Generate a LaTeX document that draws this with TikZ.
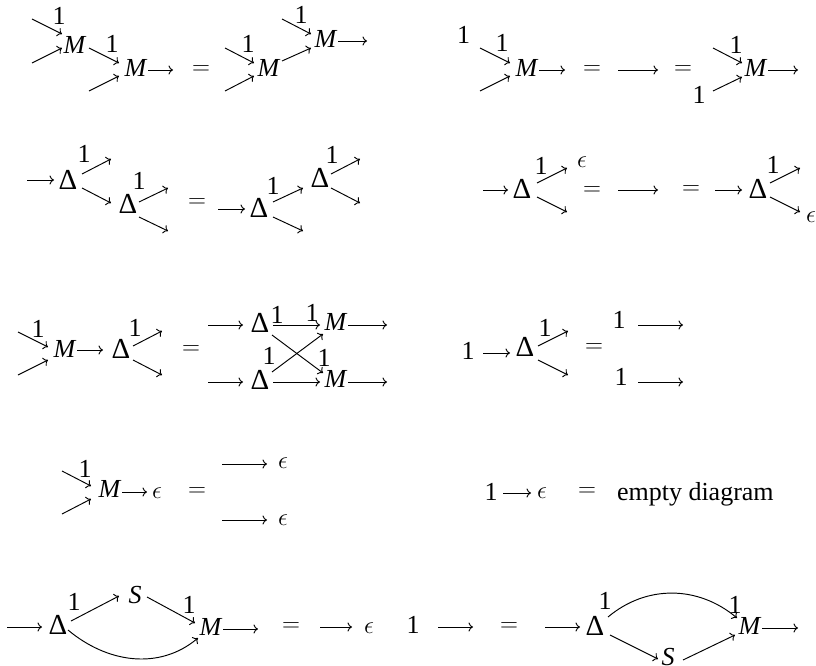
\documentclass[tikz,border=0pt]{standalone}
\usepackage{fontspec}
\setmainfont{Liberation Serif}
\usetikzlibrary{arrows.meta}
\newcommand{\fsz}{\fontsize{26}{31}\selectfont}
\begin{document}
\begin{tikzpicture}[x=1pt,y=-1pt,
  every node/.style={inner sep=0pt,outer sep=0pt,font=\fsz},
  dl/.style={font=\fontsize{29}{34}\selectfont},
  eqs/.style={font=\fontsize{28}{33}\selectfont},
  wire/.style={-{Computer Modern Rightarrow[length=4.5pt,width=9pt]}, line width=0.95pt}]
\useasboundingbox (0,0) rectangle (816,666);
% ---------- row 1 left
\node (r1m1) at (75,45) {\textit{M}};
\node (r1l1) at (59,16) {1};
\node (r1m2) at (136,68) {\textit{M}};
\node (r1l2) at (112,44) {1};
\node[eqs] (r1eq) at (201,70) {$=$};
\node (r1m3) at (269,68) {\textit{M}};
\node (r1l3) at (248,44) {1};
\node (r1m4) at (326,39) {\textit{M}};
\node (r1l4) at (301,15) {1};
\coordinate (r1a) at (32,19);
\coordinate (r1b) at (32,63);
\coordinate (r1c) at (89,91);
\coordinate (r1o1) at (173,70);
\coordinate (r1d) at (225,48);
\coordinate (r1e) at (225,91);
\coordinate (r1f) at (282,19);
\coordinate (r1o2) at (367,41);
\draw[wire] (r1a) -- ([shift={(-13,-11)}]r1m1.center);
\draw[wire] (r1b) -- ([shift={(-13,3)}]r1m1.center);
\draw[wire] ([shift={(14,3)}]r1m1.center) -- ([shift={(-17,-5)}]r1m2.center);
\draw[wire] (r1c) -- ([shift={(-17,8)}]r1m2.center);
\draw[wire] ([shift={(12,2)}]r1m2.center) -- (r1o1);
\draw[wire] (r1d) -- ([shift={(-15,-5)}]r1m3.center);
\draw[wire] (r1e) -- ([shift={(-15,8)}]r1m3.center);
\draw[wire] ([shift={(13,-7)}]r1m3.center) -- ([shift={(-15,9)}]r1m4.center);
\draw[wire] (r1f) -- ([shift={(-15,-5)}]r1m4.center);
\draw[wire] ([shift={(12,2)}]r1m4.center) -- (r1o2);
% ---------- row 1 right
\node (r1one) at (463.5,35) {1};
\node (r1m5) at (527,68) {\textit{M}};
\node (r1l5) at (502,43) {1};
\node[eqs] (r1eq2) at (592,70) {$=$};
\node[eqs] (r1eq3) at (683,70) {$=$};
\node (r1m6) at (756,68) {\textit{M}};
\node (r1l6) at (736,45) {1};
\node (r1l7) at (699,95) {1};
\coordinate (r1g) at (480,48);
\coordinate (r1h) at (480,91);
\coordinate (r1o3) at (565,70);
\coordinate (r1w1) at (618,70);
\coordinate (r1w2) at (658,70);
\coordinate (r1k) at (713,48);
\coordinate (r1l) at (713,91);
\coordinate (r1o4) at (798,70);
\draw[wire] (r1g) -- ([shift={(-17,-5)}]r1m5.center);
\draw[wire] (r1h) -- ([shift={(-17,8)}]r1m5.center);
\draw[wire] ([shift={(12,2)}]r1m5.center) -- (r1o3);
\draw[wire] (r1w1) -- (r1w2);
\draw[wire] (r1k) -- ([shift={(-14,-5)}]r1m6.center);
\draw[wire] (r1l) -- ([shift={(-14,9)}]r1m6.center);
\draw[wire] ([shift={(12,2)}]r1m6.center) -- (r1o4);
% ---------- row 2 left
\node[dl] (r2d1) at (68,180) {Δ};
\node (r2l1) at (84,154) {1};
\node[dl] (r2d2) at (128,204) {Δ};
\node (r2l2) at (139,181) {1};
\node[eqs] (r2eq) at (197,203) {$=$};
\node[dl] (r2d3) at (259,208) {Δ};
\node (r2l3) at (273,186) {1};
\node[dl] (r2d4) at (320,178) {Δ};
\node (r2l4) at (332,155) {1};
\coordinate (r2i1) at (27,180);
\coordinate (r2u1) at (111,159);
\coordinate (r2u2) at (168,188);
\coordinate (r2v2) at (168,231);
\coordinate (r2i3) at (218,209);
\coordinate (r2v3) at (303,231);
\coordinate (r2u4) at (360,159);
\coordinate (r2v4) at (360,203);
\draw[wire] (r2i1) -- ([shift={(-14,0)}]r2d1.center);
\draw[wire] ([shift={(14,-6)}]r2d1.center) -- (r2u1);
\draw[wire] ([shift={(14,8)}]r2d1.center) -- ([shift={(-17,-1)}]r2d2.center);
\draw[wire] ([shift={(11,-2)}]r2d2.center) -- (r2u2);
\draw[wire] ([shift={(11,13)}]r2d2.center) -- (r2v2);
\draw[wire] (r2i3) -- ([shift={(-14,1)}]r2d3.center);
\draw[wire] ([shift={(14,-6)}]r2d3.center) -- ([shift={(-17,10)}]r2d4.center);
\draw[wire] ([shift={(14,9)}]r2d3.center) -- (r2v3);
\draw[wire] ([shift={(11,-4)}]r2d4.center) -- (r2u4);
\draw[wire] ([shift={(11,10)}]r2d4.center) -- (r2v4);
% ---------- row 2 right
\node[dl] (r2d5) at (522,189) {Δ};
\node (r2l5) at (541,166) {1};
\node (r2e1) at (582,162) {$\epsilon$};
\node[eqs] (r2eq2) at (592,191) {$=$};
\node[eqs] (r2eq3) at (691,190) {$=$};
\node[dl] (r2d6) at (758,189) {Δ};
\node (r2l6) at (773,165) {1};
\node (r2e2) at (811,217) {$\epsilon$};
\coordinate (r2i5) at (483,190);
\coordinate (r2v5) at (567,212);
\coordinate (r2w1) at (618,190);
\coordinate (r2w2) at (658,190);
\coordinate (r2i6) at (715,190);
\coordinate (r2u6) at (800,168);
\draw[wire] (r2i5) -- ([shift={(-14,1)}]r2d5.center);
\draw[wire] ([shift={(15,-6)}]r2d5.center) -- ([shift={(-15,6)}]r2e1.center);
\draw[wire] ([shift={(15,8)}]r2d5.center) -- (r2v5);
\draw[wire] (r2w1) -- (r2w2);
\draw[wire] (r2i6) -- ([shift={(-16,1)}]r2d6.center);
\draw[wire] ([shift={(12,-6)}]r2d6.center) -- (r2u6);
\draw[wire] ([shift={(12,8)}]r2d6.center) -- ([shift={(-11,-5)}]r2e2.center);
% ---------- row 3 left
\node (r3m7) at (65,349) {\textit{M}};
\node (r3l7) at (38,329) {1};
\node[dl] (r3d7) at (121,349) {Δ};
\node (r3l8) at (135,328) {1};
\node[eqs] (r3eq) at (191,350) {$=$};
\node[dl] (r3d8) at (260,323) {Δ};
\node (r3l9) at (277,315) {1};
\node (r3m8) at (336,322) {\textit{M}};
\node (r3l10) at (312,313) {1};
\node[dl] (r3d9) at (260,380) {Δ};
\node (r3l11) at (269,356) {1};
\node (r3m9) at (336,379) {\textit{M}};
\node (r3l12) at (324,358) {1};
\coordinate (r3a) at (18,332);
\coordinate (r3b) at (18,375);
\coordinate (r3u7) at (162,331);
\coordinate (r3v7) at (162,375);
\coordinate (r3i8) at (208,325);
\coordinate (r3o8) at (387,325);
\coordinate (r3i9) at (208,382);
\coordinate (r3o9) at (387,382);
\draw[wire] (r3a) -- ([shift={(-17,-2)}]r3m7.center);
\draw[wire] (r3b) -- ([shift={(-17,11)}]r3m7.center);
\draw[wire] ([shift={(12,1)}]r3m7.center) -- ([shift={(-18,1)}]r3d7.center);
\draw[wire] ([shift={(12,-3)}]r3d7.center) -- (r3u7);
\draw[wire] ([shift={(12,11)}]r3d7.center) -- (r3v7);
\draw[wire] (r3i8) -- ([shift={(-17,2)}]r3d8.center);
\draw[wire] ([shift={(13,2)}]r3d8.center) -- ([shift={(-16,3)}]r3m8.center);
\draw[wire] ([shift={(12,3)}]r3m8.center) -- (r3o8);
\draw[wire] ([shift={(12,12)}]r3d8.center) -- ([shift={(-13,-6)}]r3m9.center);
\draw[wire] ([shift={(12,-8)}]r3d9.center) -- ([shift={(-13,12)}]r3m8.center);
\draw[wire] (r3i9) -- ([shift={(-17,2)}]r3d9.center);
\draw[wire] ([shift={(13,2)}]r3d9.center) -- ([shift={(-16,3)}]r3m9.center);
\draw[wire] ([shift={(12,3)}]r3m9.center) -- (r3o9);
% ---------- row 3 right
\node (r3one2) at (468,351) {1};
\node[dl] (r3d10) at (525,347) {Δ};
\node (r3l13) at (545,328) {1};
\node[eqs] (r3eq2) at (594,348) {$=$};
\node (r3one3) at (619,320) {1};
\node (r3one4) at (621,377) {1};
\coordinate (r3u10) at (568,331);
\coordinate (r3v10) at (568,375);
\coordinate (r3o3a) at (683,325);
\coordinate (r3o3b) at (683,382);
\draw[wire] ([shift={(15,2)}]r3one2.center) -- ([shift={(-15,6)}]r3d10.center);
\draw[wire] ([shift={(13,-1)}]r3d10.center) -- (r3u10);
\draw[wire] ([shift={(13,13)}]r3d10.center) -- (r3v10);
\draw[wire] ([shift={(19,5)}]r3one3.center) -- (r3o3a);
\draw[wire] ([shift={(17,5)}]r3one4.center) -- (r3o3b);
% ---------- row 4 left
\node (r4m10) at (110,489) {\textit{M}};
\node (r4l14) at (85,469) {1};
\node (r4e3) at (157,493) {$\epsilon$};
\node[eqs] (r4eq) at (197,492) {$=$};
\node (r4e4) at (283,463) {$\epsilon$};
\node (r4e5) at (283,520) {$\epsilon$};
\coordinate (r4a) at (62,471);
\coordinate (r4b) at (62,514);
\coordinate (r4i4) at (222,464);
\coordinate (r4i5) at (222,520);
\draw[wire] (r4a) -- ([shift={(-19,-3)}]r4m10.center);
\draw[wire] (r4b) -- ([shift={(-19,10)}]r4m10.center);
\draw[wire] ([shift={(12,3)}]r4m10.center) -- ([shift={(-10,-1)}]r4e3.center);
\draw[wire] (r4i4) -- ([shift={(-16,1)}]r4e4.center);
\draw[wire] (r4i5) -- ([shift={(-16,0)}]r4e5.center);
% ---------- row 4 right
\node (r4one5) at (491,492) {1};
\node (r4e6) at (542,493) {$\epsilon$};
\node[eqs] (r4eq2) at (587,492) {$=$};
\node[anchor=base west] (r4txt) at (617,500) {empty diagram};
\draw[wire] ([shift={(12,1)}]r4one5.center) -- ([shift={(-11,0)}]r4e6.center);
% ---------- row 5 left
\node[dl] (r5d11) at (58,625) {Δ};
\node (r5l15) at (74,602) {1};
\node (r5s1) at (135,595) {\textit{S}};
\node (r5l16) at (189,605) {1};
\node (r5m11) at (211,627) {\textit{M}};
\node[eqs] (r5eq) at (291,627) {$=$};
\node (r5e7) at (369,628) {$\epsilon$};
\node (r5one6) at (413,625) {1};
\coordinate (r5i) at (7,627);
\coordinate (r5o) at (258,629);
\coordinate (r5i7) at (320,627);
\coordinate (r5o6) at (473,627);
\draw[wire] (r5i) -- ([shift={(-16,2)}]r5d11.center);
\draw[wire] ([shift={(13,-4)}]r5d11.center) -- ([shift={(-16,1)}]r5s1.center);
\draw[wire] ([shift={(12,2)}]r5s1.center) -- ([shift={(-16,-4)}]r5m11.center);
\draw[wire] ([shift={(10,5)}]r5d11.center) to[out=-40,in=-140] ([shift={(-13,11)}]r5m11.center);
\draw[wire] ([shift={(12,2)}]r5m11.center) -- (r5o);
\draw[wire] (r5i7) -- ([shift={(-17,-1)}]r5e7.center);
\draw[wire] ([shift={(25,2)}]r5one6.center) -- (r5o6);
% ---------- row 5 right
\node[eqs] (r5eq2) at (509,627) {$=$};
\node[dl] (r5d12) at (595,626) {Δ};
\node (r5l17) at (605,601) {1};
\node (r5m12) at (750,626) {\textit{M}};
\node (r5l18) at (735,605) {1};
\node (r5s2) at (668,657) {\textit{S}};
\coordinate (r5i12) at (545,627);
\coordinate (r5o12) at (798,628);
\draw[wire] (r5i12) -- ([shift={(-15,1)}]r5d12.center);
\draw[wire] ([shift={(13,-9)}]r5d12.center) to[out=40,in=140] ([shift={(-13,-8)}]r5m12.center);
\draw[wire] ([shift={(15,9)}]r5d12.center) -- ([shift={(-10,2)}]r5s2.center);
\draw[wire] ([shift={(15,3)}]r5s2.center) -- ([shift={(-15,9)}]r5m12.center);
\draw[wire] ([shift={(12,2)}]r5m12.center) -- (r5o12);
\end{tikzpicture}
\end{document}
